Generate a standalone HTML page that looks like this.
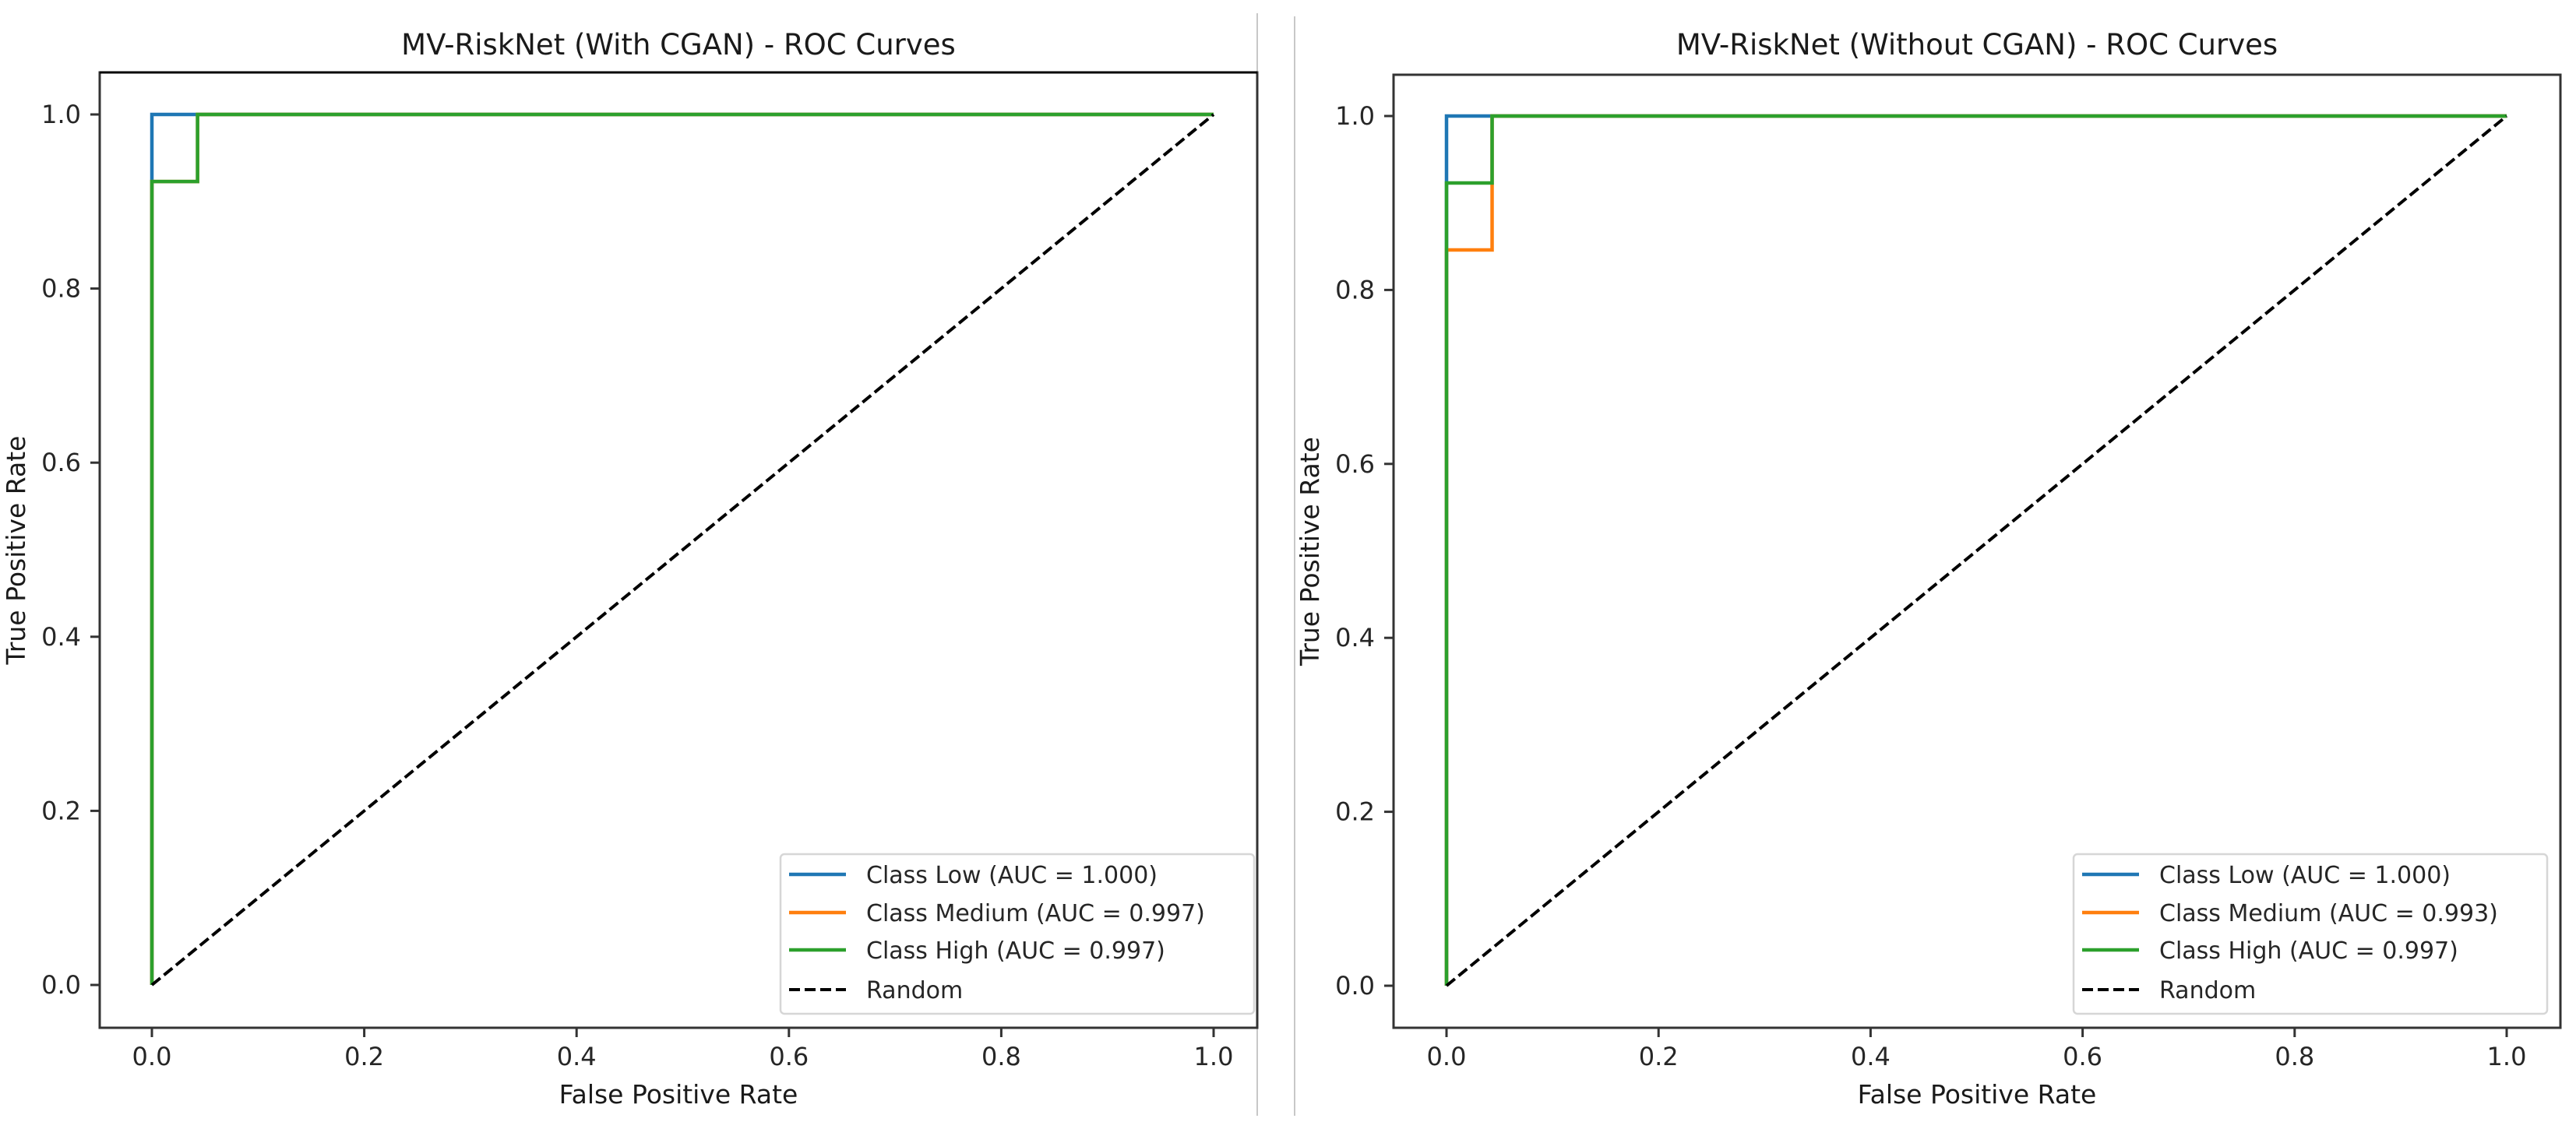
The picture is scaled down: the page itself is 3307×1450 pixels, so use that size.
<!DOCTYPE html>
<html><head><meta charset="utf-8"><style>
html,body{margin:0;padding:0;background:#fff;}
svg{display:block;font-family:"DejaVu Sans","Liberation Sans",sans-serif;}
</style></head><body>
<svg id="fig" width="3307" height="1450" viewBox="0 0 3307 1450" xmlns="http://www.w3.org/2000/svg">
<rect width="3307" height="1450" fill="#fff"/>
<line x1="1614" y1="17" x2="1614" y2="1433" stroke="#c8c8c8" stroke-width="2"/>
<line x1="1662" y1="21" x2="1662" y2="1433" stroke="#c8c8c8" stroke-width="2"/>
</svg>
<script>
const ticks = [0.0, 0.2, 0.4, 0.6, 0.8, 1.0];
const tickLabels = ["0.0", "0.2", "0.4", "0.6", "0.8", "1.0"];
const classNames = ["Class Low", "Class Medium", "Class High"];
const colors = ["#1f77b4", "#ff7f0e", "#2ca02c"];
// left panel (With CGAN)
const leftTitle = "MV-RiskNet (With CGAN) - ROC Curves";
const leftAUC = ["1.000", "0.997", "0.997"];
const leftLowFPR = [0, 0, 1];
const leftLowTPR = [0, 1, 1];
const leftMedFPR = [0, 0, 0.043, 0.043, 1];
const leftMedTPR = [0, 0.923, 0.923, 1, 1];
const leftHighFPR = [0, 0, 0.043, 0.043, 1];
const leftHighTPR = [0, 0.923, 0.923, 1, 1];
// right panel (Without CGAN)
const rightTitle = "MV-RiskNet (Without CGAN) - ROC Curves";
const rightAUC = ["1.000", "0.993", "0.997"];
const rightLowFPR = [0, 0, 1];
const rightLowTPR = [0, 1, 1];
const rightMedFPR = [0, 0, 0.043, 0.043, 1];
const rightMedTPR = [0, 0.846, 0.846, 1, 1];
const rightHighFPR = [0, 0, 0.043, 0.043, 1];
const rightHighTPR = [0, 0.923, 0.923, 1, 1];
const randomFPR = [0, 1];
const randomTPR = [0, 1];

const NS = "http://www.w3.org/2000/svg";
const svg = document.getElementById("fig");
function mk(tag, attrs, parent, text) {
  const e = document.createElementNS(NS, tag);
  for (const k in attrs) e.setAttribute(k, attrs[k]);
  if (text !== undefined) e.textContent = text;
  (parent || svg).appendChild(e);
  return e;
}

function panel(cfg) {
  const g = mk("g", {});
  
  
  const sx = v => cfg.x0 + v * (cfg.x1 - cfg.x0);
  const sy = v => cfg.y0 + v * (cfg.y1 - cfg.y0);
  const frame = mk("rect", {x: cfg.L, y: cfg.T, width: cfg.R - cfg.L, height: cfg.B - cfg.T, fill: "none", stroke: "#333", "stroke-width": 3}, g);
  
  
  if (cfg.topBlack) {
    const tl = mk("line", {x1: cfg.L, y1: cfg.T, x2: cfg.R, y2: cfg.T, stroke: "#000", "stroke-width": 3}, g);
    
    
  }
  // ticks
  ticks.forEach((t, i) => {
    const xt = mk("line", {x1: sx(t), y1: cfg.B, x2: sx(t), y2: cfg.B + 12, stroke: "#333", "stroke-width": 3}, g);
    
    
    const xl = mk("text", {x: sx(t), y: cfg.B + 48, "text-anchor": "middle", "font-size": 32, fill: "#262626"}, g, tickLabels[i]);
    
    
    const yt = mk("line", {x1: cfg.L - 12, y1: sy(t), x2: cfg.L, y2: sy(t), stroke: "#333", "stroke-width": 3}, g);
    
    
    const yl = mk("text", {x: cfg.L - 24, y: sy(t) + 11, "text-anchor": "end", "font-size": 32, fill: "#262626"}, g, tickLabels[i]);
    
    
  });
  const title = mk("text", {x: (cfg.L + cfg.R) / 2, y: 70, "text-anchor": "middle", "font-size": 37, fill: "#1a1a1a"}, g, cfg.title);
  
  
  const xlab = mk("text", {x: (cfg.L + cfg.R) / 2, y: 1417, "text-anchor": "middle", "font-size": 33, fill: "#1a1a1a"}, g, "False Positive Rate");
  
  
  const ylx = cfg.L - 96, yly = (cfg.T + cfg.B) / 2;
  const ylab = mk("text", {x: ylx, y: yly, "text-anchor": "middle", "font-size": 33, fill: "#1a1a1a", transform: `rotate(-90 ${ylx} ${yly})`}, g, "True Positive Rate");
  
  
  // curves
  const series = [[cfg.lowF, cfg.lowT], [cfg.medF, cfg.medT], [cfg.highF, cfg.highT]];
  const names = ["roc-curve-low", "roc-curve-medium", "roc-curve-high"];
  series.forEach((s, i) => {
    const pts = s[0].map((f, j) => sx(f) + "," + sy(s[1][j])).join(" ");
    const pl = mk("polyline", {points: pts, fill: "none", stroke: colors[i], "stroke-width": 4.5}, g);
    
    
  });
  const rp = randomFPR.map((f, j) => sx(f) + "," + sy(randomTPR[j])).join(" ");
  const rl = mk("polyline", {points: rp, fill: "none", stroke: "#000", "stroke-width": 4, "stroke-dasharray": "14 6"}, g);
  
  
  // legend
  const lg = mk("g", {}, g);
  
  
  const lx = cfg.legX;
  const box = mk("rect", {x: lx, y: 1097, width: 608, height: 205, rx: 5, fill: "#fff", stroke: "#d6d6d6", "stroke-width": 2.5}, lg);
  
  
  const rows = [1123, 1172, 1220, 1271];
  classNames.forEach((n, i) => {
    const ln = mk("line", {x1: lx + 11, y1: rows[i], x2: lx + 84, y2: rows[i], stroke: colors[i], "stroke-width": 4.5}, lg);
    
    
    const tx = mk("text", {x: lx + 110, y: rows[i] + 11, "font-size": 30, fill: "#262626"}, lg, `${n} (AUC = ${cfg.auc[i]})`);
    
    
  });
  const dl = mk("line", {x1: lx + 11, y1: rows[3], x2: lx + 84, y2: rows[3], stroke: "#000", "stroke-width": 4, "stroke-dasharray": "14 6"}, lg);
  
  
  const dt = mk("text", {x: lx + 110, y: rows[3] + 11, "font-size": 30, fill: "#262626"}, lg, "Random");
  
  
}

panel({name: "left-panel", title: leftTitle, L: 128, R: 1614, T: 93, B: 1320, x0: 195, x1: 1558, y0: 1265, y1: 147, topBlack: true,
  lowF: leftLowFPR, lowT: leftLowTPR, medF: leftMedFPR, medT: leftMedTPR, highF: leftHighFPR, highT: leftHighTPR, auc: leftAUC, legX: 1002});
panel({name: "right-panel", title: rightTitle, L: 1789, R: 3287, T: 96, B: 1320, x0: 1857, x1: 3218, y0: 1266, y1: 149, topBlack: false,
  lowF: rightLowFPR, lowT: rightLowTPR, medF: rightMedFPR, medT: rightMedTPR, highF: rightHighFPR, highT: rightHighTPR, auc: rightAUC, legX: 2662});
</script>
</body></html>
